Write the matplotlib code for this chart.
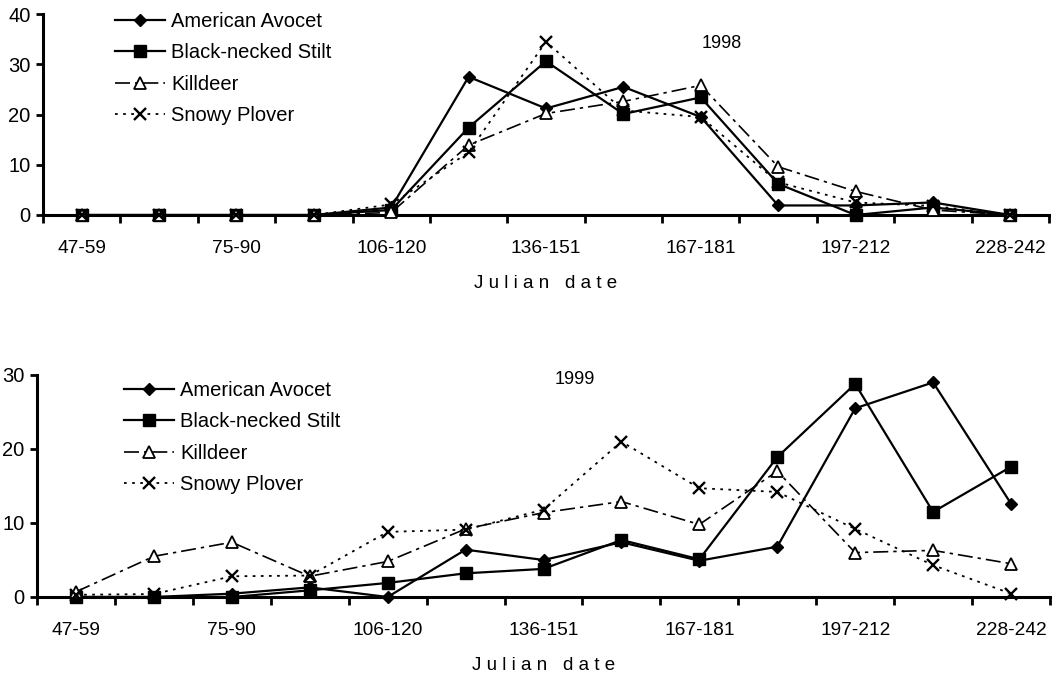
import matplotlib
matplotlib.use("Agg")
import matplotlib.pyplot as plt
import numpy as np

plt.rcParams['font.family'] = ['Liberation Sans', 'DejaVu Sans']

# Julian date periods (only every other one is labelled on the chart)
periods = ['47-59', '', '75-90', '', '106-120', '', '136-151', '',
           '167-181', '', '197-212', '', '228-242']

species = ['American Avocet', 'Black-necked Stilt', 'Killdeer', 'Snowy Plover']

# 1998
avocet_98 = [0, 0, 0, 0, 1.5, 27.5, 21.2, 25.5, 19.5, 1.9, 1.9, 2.5, 0]
stilt_98 = [0, 0, 0, 0, 1.0, 17.4, 30.6, 20.1, 23.4, 6.2, 0, 1.5, 0]
killdeer_98 = [0, 0, 0, 0, 0.5, 13.9, 20.2, 22.6, 25.8, 9.6, 4.7, 1.0, 0]
plover_98 = [0, 0, 0, 0, 2.1, 12.5, 34.5, 20.8, 19.5, 6.5, 2.5, 1.8, 0]

# 1999
avocet_99 = [0, 0, 0.45, 1.3, 0, 6.4, 5.0, 7.4, 4.9, 6.8, 25.5, 29.0, 12.6]
stilt_99 = [0, 0, 0, 0.9, 1.9, 3.2, 3.8, 7.7, 5.1, 18.9, 28.8, 11.5, 17.6]
killdeer_99 = [0.7, 5.5, 7.4, 2.8, 4.8, 9.2, 11.4, 12.9, 9.8, 17.0, 6.0, 6.3, 4.5]
plover_99 = [0.3, 0.4, 2.8, 2.9, 8.8, 9.1, 11.8, 21.0, 14.7, 14.2, 9.2, 4.3, 0.45]

styles = [
    dict(color='black', linestyle='-', linewidth=1.6, marker='D', markersize=6.5,
         markerfacecolor='black'),
    dict(color='black', linestyle='-', linewidth=1.6, marker='s', markersize=8,
         markerfacecolor='black'),
    dict(color='black', linestyle=(0, (9, 3, 2, 3)), linewidth=1.2, marker='^',
         markersize=8, markerfacecolor='white', markeredgewidth=1.3),
    dict(color='black', linestyle=(0, (1.5, 3)), linewidth=1.3, marker='x',
         markersize=8.5, markeredgewidth=1.7),
]


def draw_panel(ax, series, ymax, year, year_xy, legend_anchor):
    x = np.arange(len(periods))
    for name, vals, st in zip(species, series, styles):
        ax.plot(x, vals, label=name, clip_on=False, zorder=3, **st)

    ax.set_xlim(-0.5, len(periods) - 0.5)
    ax.set_ylim(0, ymax)
    ax.set_yticks(np.arange(0, ymax + 1, 10))

    # boundary ticks without labels, category labels on minor ticks
    ax.set_xticks(np.arange(-0.5, len(periods), 1.0))
    ax.set_xticklabels([])
    ax.set_xticks(x, minor=True)
    ax.set_xticklabels(periods, minor=True, fontsize=13.8)
    ax.tick_params(axis='x', which='major', direction='out', length=6, width=2)
    ax.tick_params(axis='x', which='minor', length=0, pad=18)
    ax.tick_params(axis='y', direction='out', length=5, width=2, labelsize=14.5, pad=4)

    for side in ['top', 'right']:
        ax.spines[side].set_visible(False)
    for side in ['left', 'bottom']:
        ax.spines[side].set_linewidth(2.2)

    ax.set_xlabel('J u l i a n   d a t e', fontsize=13.5, labelpad=13)
    ax.text(year_xy[0], year_xy[1], year, transform=ax.transAxes,
            fontsize=13, ha='center', va='center')
    ax.legend(loc='upper left', bbox_to_anchor=legend_anchor, frameon=False,
              fontsize=14.5, handlelength=2.5, handletextpad=0.3,
              labelspacing=0.62, borderaxespad=0)


fig = plt.figure(figsize=(10.61, 6.79), dpi=100)
ax1 = fig.add_axes([43 / 1061, 1 - 215 / 679, (1049 - 43) / 1061, (215 - 14) / 679])
ax2 = fig.add_axes([37 / 1061, 1 - 597 / 679, (1050 - 37) / 1061, (597 - 375) / 679])

draw_panel(ax1, [avocet_98, stilt_98, killdeer_98, plover_98], 40, '1998',
           ((722 - 43) / 1006, (215 - 43) / 201), (64 / 1006, 1.05))
draw_panel(ax2, [avocet_99, stilt_99, killdeer_99, plover_99], 30, '1999',
           ((575 - 37) / 1013, (597 - 380) / 222), (79 / 1013, 1.01))

fig.savefig('out.png', dpi=100)
